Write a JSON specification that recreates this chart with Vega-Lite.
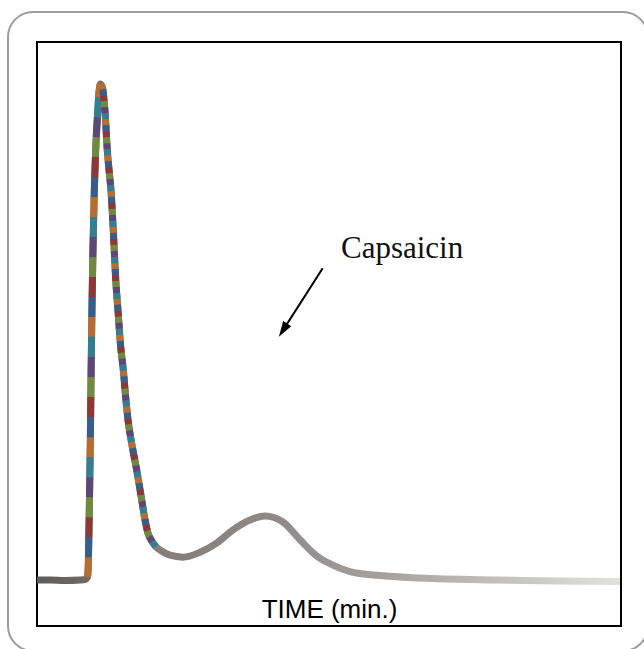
{
  "$schema": "https://vega.github.io/schema/vega-lite/v6.json",
  "width": 584,
  "height": 584,
  "autosize": {"type": "none"},
  "padding": {"left": 37, "top": 42, "right": 23, "bottom": 23},
  "background": "#ffffff",
  "config": {
    "view": {"stroke": "#000000", "strokeWidth": 2}
  },
  "datasets": {
    "curve": [
      {"t": 0, "v": 0},
      {"t": 1.34, "v": 0},
      {"t": 2.88, "v": -0.1},
      {"t": 4.42, "v": 0},
      {"t": 4.93, "v": 0.1},
      {"t": 5.19, "v": 0.6},
      {"t": 5.27, "v": 3.0},
      {"t": 5.32, "v": 8.1},
      {"t": 5.39, "v": 16.1},
      {"t": 5.48, "v": 28.2},
      {"t": 5.55, "v": 40.3},
      {"t": 5.63, "v": 52.4},
      {"t": 5.75, "v": 66.5},
      {"t": 5.89, "v": 78.6},
      {"t": 6.03, "v": 86.7},
      {"t": 6.24, "v": 94.4},
      {"t": 6.37, "v": 98.4},
      {"t": 6.52, "v": 100},
      {"t": 6.73, "v": 99.2},
      {"t": 6.88, "v": 96.8},
      {"t": 7.01, "v": 93.8},
      {"t": 7.22, "v": 86.7},
      {"t": 7.40, "v": 82.7},
      {"t": 7.60, "v": 78.6},
      {"t": 7.86, "v": 69.6},
      {"t": 8.09, "v": 60.5},
      {"t": 8.32, "v": 54.4},
      {"t": 8.58, "v": 47.4},
      {"t": 8.87, "v": 42.3},
      {"t": 9.09, "v": 37.3},
      {"t": 9.35, "v": 32.3},
      {"t": 9.76, "v": 27.2},
      {"t": 10.24, "v": 22.2},
      {"t": 10.68, "v": 17.1},
      {"t": 11.10, "v": 12.1},
      {"t": 11.40, "v": 9.5},
      {"t": 11.78, "v": 7.9},
      {"t": 12.23, "v": 6.7},
      {"t": 12.84, "v": 5.8},
      {"t": 13.66, "v": 5.0},
      {"t": 15.00, "v": 4.6},
      {"t": 16.75, "v": 5.6},
      {"t": 18.49, "v": 7.5},
      {"t": 20.14, "v": 10.1},
      {"t": 21.88, "v": 12.1},
      {"t": 23.42, "v": 12.9},
      {"t": 25.27, "v": 11.7},
      {"t": 27.02, "v": 8.1},
      {"t": 28.77, "v": 4.8},
      {"t": 30.41, "v": 3.0},
      {"t": 32.16, "v": 1.7},
      {"t": 35.24, "v": 0.9},
      {"t": 39.35, "v": 0.4},
      {"t": 47.57, "v": 0},
      {"t": 53.73, "v": -0.2},
      {"t": 59.90, "v": -0.3}
    ],
    "notes": [
      {"t": 31.23, "v": 64.9, "t2": 25.28, "v2": 50.38, "label": "Capsaicin", "ts": 29.35, "vs": 62.84}
    ],
    "frame": [
      {"t": -2.98, "t2": 62.77, "v": 114.5, "v2": -14.3}
    ]
  },
  "layer": [
    {
      "data": {"name": "curve"},
      "mark": {
        "type": "line", "interpolate": "monotone", "strokeWidth": 7, "strokeCap": "butt",
        "stroke": {"gradient": "linear", "x1": 0, "y1": 0, "x2": 1, "y2": 0,
          "stops": [
            {"offset": 0, "color": "#625c59"},
            {"offset": 0.2, "color": "#837d7a"},
            {"offset": 0.4, "color": "#8e8986"},
            {"offset": 0.6, "color": "#a6a29f"},
            {"offset": 0.8, "color": "#c3c0bd"},
            {"offset": 1, "color": "#e2e2dd"}
          ]}
      },
      "encoding": {
        "x": {"field": "t", "type": "quantitative", "scale": {"domain": [0, 60], "nice": false, "zero": false},
          "axis": {"title": "TIME (min.)", "domain": false, "ticks": false, "labels": false, "grid": false,
            "titleFont": "Liberation Sans", "titleFontSize": 26, "titleFontWeight": "normal", "titleColor": "#000000",
            "titleY": -9, "titleBaseline": "alphabetic"}},
        "y": {"field": "v", "type": "quantitative", "scale": {"domain": [-9.27, 108.47], "nice": false, "zero": false}, "axis": null}
      }
    },
    {
      "data": {"name": "frame"},
      "mark": {"type": "rect", "filled": false, "color": "#9c9c9c", "strokeWidth": 2, "cornerRadius": 25, "clip": false},
      "encoding": {
        "x": {"field": "t", "type": "quantitative"},
        "x2": {"field": "t2"},
        "y": {"field": "v", "type": "quantitative"},
        "y2": {"field": "v2"}
      }
    },
    {"data": {"name": "curve"}, "transform": [{"filter": "datum.t >= 5.19 && datum.t <= 6.52"}],
      "mark": {"type": "line", "interpolate": "monotone", "strokeWidth": 7, "strokeCap": "butt", "color": "#b66d31", "strokeDash": [20, 100], "strokeDashOffset": 0},
      "encoding": {"x": {"field": "t", "type": "quantitative"}, "y": {"field": "v", "type": "quantitative"}}},
    {"data": {"name": "curve"}, "transform": [{"filter": "datum.t >= 5.19 && datum.t <= 6.52"}],
      "mark": {"type": "line", "interpolate": "monotone", "strokeWidth": 7, "strokeCap": "butt", "color": "#385d8a", "strokeDash": [20, 100], "strokeDashOffset": 100},
      "encoding": {"x": {"field": "t", "type": "quantitative"}, "y": {"field": "v", "type": "quantitative"}}},
    {"data": {"name": "curve"}, "transform": [{"filter": "datum.t >= 5.19 && datum.t <= 6.52"}],
      "mark": {"type": "line", "interpolate": "monotone", "strokeWidth": 7, "strokeCap": "butt", "color": "#8c3836", "strokeDash": [20, 100], "strokeDashOffset": 80},
      "encoding": {"x": {"field": "t", "type": "quantitative"}, "y": {"field": "v", "type": "quantitative"}}},
    {"data": {"name": "curve"}, "transform": [{"filter": "datum.t >= 5.19 && datum.t <= 6.52"}],
      "mark": {"type": "line", "interpolate": "monotone", "strokeWidth": 7, "strokeCap": "butt", "color": "#71893f", "strokeDash": [20, 100], "strokeDashOffset": 60},
      "encoding": {"x": {"field": "t", "type": "quantitative"}, "y": {"field": "v", "type": "quantitative"}}},
    {"data": {"name": "curve"}, "transform": [{"filter": "datum.t >= 5.19 && datum.t <= 6.52"}],
      "mark": {"type": "line", "interpolate": "monotone", "strokeWidth": 7, "strokeCap": "butt", "color": "#5c4776", "strokeDash": [20, 100], "strokeDashOffset": 40},
      "encoding": {"x": {"field": "t", "type": "quantitative"}, "y": {"field": "v", "type": "quantitative"}}},
    {"data": {"name": "curve"}, "transform": [{"filter": "datum.t >= 5.19 && datum.t <= 6.52"}],
      "mark": {"type": "line", "interpolate": "monotone", "strokeWidth": 7, "strokeCap": "butt", "color": "#357d91", "strokeDash": [20, 100], "strokeDashOffset": 20},
      "encoding": {"x": {"field": "t", "type": "quantitative"}, "y": {"field": "v", "type": "quantitative"}}},
    {"data": {"name": "curve"}, "transform": [{"filter": "datum.t >= 6.52 && datum.t <= 12.23"}],
      "mark": {"type": "line", "interpolate": "monotone", "strokeWidth": 7, "strokeCap": "butt", "color": "#b66d31", "strokeDash": [6, 30], "strokeDashOffset": 0},
      "encoding": {"x": {"field": "t", "type": "quantitative"}, "y": {"field": "v", "type": "quantitative"}}},
    {"data": {"name": "curve"}, "transform": [{"filter": "datum.t >= 6.52 && datum.t <= 12.23"}],
      "mark": {"type": "line", "interpolate": "monotone", "strokeWidth": 7, "strokeCap": "butt", "color": "#385d8a", "strokeDash": [6, 30], "strokeDashOffset": 30},
      "encoding": {"x": {"field": "t", "type": "quantitative"}, "y": {"field": "v", "type": "quantitative"}}},
    {"data": {"name": "curve"}, "transform": [{"filter": "datum.t >= 6.52 && datum.t <= 12.23"}],
      "mark": {"type": "line", "interpolate": "monotone", "strokeWidth": 7, "strokeCap": "butt", "color": "#8c3836", "strokeDash": [6, 30], "strokeDashOffset": 24},
      "encoding": {"x": {"field": "t", "type": "quantitative"}, "y": {"field": "v", "type": "quantitative"}}},
    {"data": {"name": "curve"}, "transform": [{"filter": "datum.t >= 6.52 && datum.t <= 12.23"}],
      "mark": {"type": "line", "interpolate": "monotone", "strokeWidth": 7, "strokeCap": "butt", "color": "#71893f", "strokeDash": [6, 30], "strokeDashOffset": 18},
      "encoding": {"x": {"field": "t", "type": "quantitative"}, "y": {"field": "v", "type": "quantitative"}}},
    {"data": {"name": "curve"}, "transform": [{"filter": "datum.t >= 6.52 && datum.t <= 12.23"}],
      "mark": {"type": "line", "interpolate": "monotone", "strokeWidth": 7, "strokeCap": "butt", "color": "#5c4776", "strokeDash": [6, 30], "strokeDashOffset": 12},
      "encoding": {"x": {"field": "t", "type": "quantitative"}, "y": {"field": "v", "type": "quantitative"}}},
    {"data": {"name": "curve"}, "transform": [{"filter": "datum.t >= 6.52 && datum.t <= 12.23"}],
      "mark": {"type": "line", "interpolate": "monotone", "strokeWidth": 7, "strokeCap": "butt", "color": "#357d91", "strokeDash": [6, 30], "strokeDashOffset": 6},
      "encoding": {"x": {"field": "t", "type": "quantitative"}, "y": {"field": "v", "type": "quantitative"}}},
    {"data": {"name": "notes"},
      "mark": {"type": "rule", "color": "#000000", "strokeWidth": 2, "strokeCap": "butt"},
      "encoding": {
        "x": {"field": "ts", "type": "quantitative"},
        "y": {"field": "vs", "type": "quantitative"},
        "x2": {"field": "t2"},
        "y2": {"field": "v2"}
      }},
    {"data": {"name": "notes"},
      "mark": {"type": "point", "shape": "M0,-1L0.62,1L-0.62,1Z", "size": 240, "filled": true, "color": "#000000", "opacity": 1, "angle": 212.7},
      "encoding": {
        "x": {"field": "t2", "type": "quantitative"},
        "y": {"field": "v2", "type": "quantitative"}
      }},
    {"data": {"name": "notes"},
      "mark": {"type": "text", "font": "Liberation Serif", "fontSize": 31, "color": "#111111", "align": "left", "baseline": "alphabetic"},
      "encoding": {
        "x": {"field": "t", "type": "quantitative"},
        "y": {"field": "v", "type": "quantitative"},
        "text": {"field": "label"}
      }}
  ]
}
